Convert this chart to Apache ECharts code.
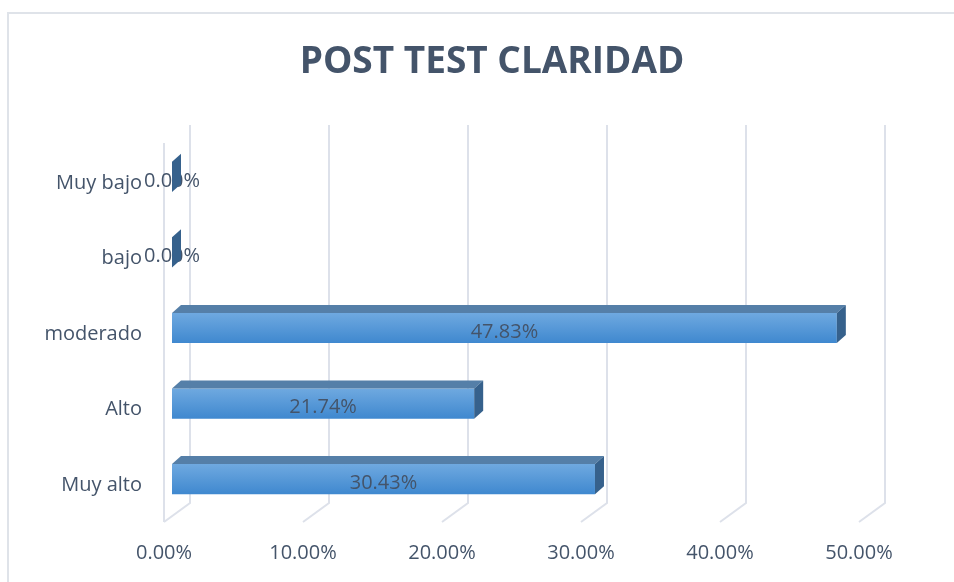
<!DOCTYPE html>
<html>
<head>
<meta charset="utf-8">
<title>POST TEST CLARIDAD</title>
<script src="https://cdn.jsdelivr.net/npm/echarts@6/dist/echarts.min.js"></script>
<style>
    html, body { margin: 0; padding: 0; background: #fff; }
    #chart { width: 954px; height: 582px; }
</style>
</head>
<body>
<div id="chart"></div>
<script>
// datos del gráfico
const categories = ['Muy bajo', 'bajo', 'moderado', 'Alto', 'Muy alto'];
const values = [0, 0, 47.83, 21.74, 30.43];
const xTicks = [0, 10, 20, 30, 40, 50];

const textColor = '#44546a';
const gridColor = '#dde1ea';
const fontFamily = '"Open Sans", "Noto Sans", sans-serif';

// profundidad del efecto 3D
const depth = { dx: 9, dy: -8 };

function fmt(v) {
    return v.toFixed(2) + '%';
}

// barras con cara frontal, superior y lateral
function renderBar(params, api) {
    const idx = api.value(0);
    const v = api.value(1);
    const start = api.coord([0, idx]);
    const end = api.coord([v, idx]);
    const h = api.size([0, 1])[1] * 0.4;
    const x0 = start[0], x1 = end[0], yc = start[1];
    const yt = yc - h / 2, yb = yc + h / 2;
    const dx = depth.dx, dy = depth.dy;

    return {
        type: 'group',
        children: [
            {
                type: 'rect',
                shape: { x: x0, y: yt, width: x1 - x0, height: h },
                style: {
                    fill: new echarts.graphic.LinearGradient(0, 0, 0, 1, [
                        { offset: 0, color: '#6fa9e0' },
                        { offset: 1, color: '#3f88cf' }
                    ])
                }
            },
            {
                type: 'text',
                style: {
                    text: fmt(v),
                    x: (x0 + x1) / 2,
                    y: yc + 4,
                    align: 'center',
                    verticalAlign: 'middle',
                    fill: textColor,
                    font: '20px ' + fontFamily
                }
            },
            {
                type: 'polygon',
                shape: { points: [[x0, yt], [x0 + dx, yt + dy], [x1 + dx, yt + dy], [x1, yt]] },
                style: { fill: '#557fa8' }
            },
            {
                type: 'polygon',
                shape: { points: [[x1, yt], [x1 + dx, yt + dy], [x1 + dx, yb + dy], [x1, yb]] },
                style: { fill: '#36618c' }
            }
        ]
    };
}

// líneas de división en perspectiva (pared del fondo y suelo)
function renderGridLine(params, api) {
    const t = api.value(0);
    const cs = params.coordSys;
    const x = api.coord([t, 0])[0];
    const top = cs.y, bottom = cs.y + cs.height;
    const lineStyle = { stroke: gridColor, lineWidth: 2, fill: null };
    const children = [{
        type: 'polyline',
        shape: { points: [[x + 18, top - 14], [x + 18, bottom - 14], [x - 8, bottom + 5]] },
        style: lineStyle
    }];
    if (t === 0) {
        children.push({
            type: 'line',
            shape: { x1: x - 8, y1: top + 4, x2: x - 8, y2: bottom + 5 },
            style: lineStyle
        });
    }
    return { type: 'group', children: children };
}

const chart = echarts.init(document.getElementById('chart'));

const option = {
    backgroundColor: '#fff',
    animation: false,
    title: {
        text: 'POST TEST CLARIDAD',
        left: 487,
        top: 39,
        textAlign: 'center',
        textStyle: {
            color: textColor,
            fontSize: 37,
            fontWeight: 'bold',
            fontFamily: fontFamily
        }
    },
    graphic: [{
        type: 'polyline',
        shape: { points: [[8, 582], [8, 13], [954, 13]] },
        style: { stroke: '#dfe3e9', lineWidth: 2, fill: null },
        silent: true
    }],
    grid: {
        left: 172,
        right: 87,
        top: 139,
        bottom: 65
    },
    xAxis: {
        type: 'value',
        min: 0,
        max: 50,
        interval: 10,
        axisLine: { show: false },
        axisTick: { show: false },
        splitLine: { show: false },
        axisLabel: {
            formatter: fmt,
            color: textColor,
            fontSize: 20,
            fontFamily: fontFamily,
            margin: 26,
            padding: [0, 16, 0, 0]
        }
    },
    yAxis: {
        type: 'category',
        inverse: true,
        data: categories,
        axisLine: { show: false },
        axisTick: { show: false },
        splitLine: { show: false },
        axisLabel: {
            color: textColor,
            fontSize: 20,
            fontFamily: fontFamily,
            margin: 30,
            verticalAlign: 'top',
            lineHeight: 12
        }
    },
    series: [
        {
            type: 'custom',
            name: 'grid',
            silent: true,
            z: 1,
            renderItem: renderGridLine,
            encode: { x: 0, y: 1 },
            data: xTicks.map(t => [t, 0])
        },
        {
            type: 'custom',
            name: 'POST TEST CLARIDAD',
            z: 2,
            renderItem: renderBar,
            encode: { x: 1, y: 0 },
            data: values.map((v, i) => [i, v])
        }
    ]
};

chart.setOption(option);
</script>
</body>
</html>
